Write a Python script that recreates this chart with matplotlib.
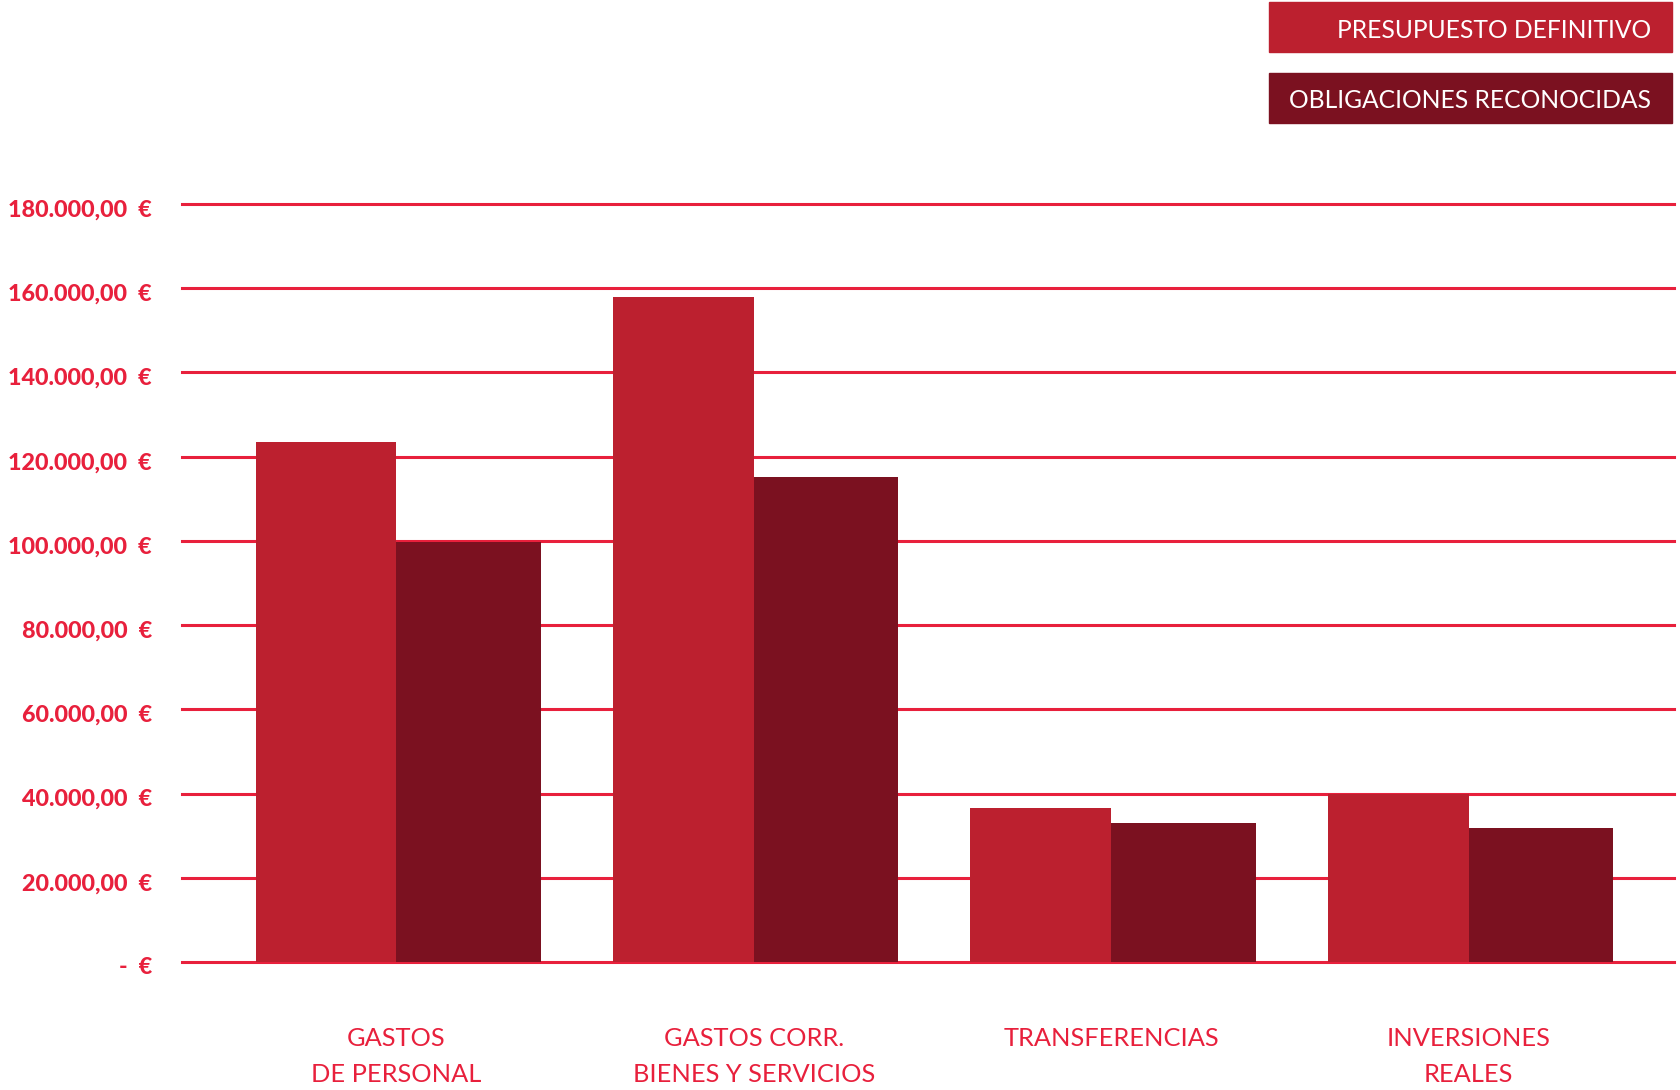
import matplotlib
matplotlib.use("Agg")
import matplotlib.pyplot as plt
import matplotlib.transforms as mtransforms
import numpy as np
from matplotlib.patches import Rectangle

categories = ["GASTOS\nDE PERSONAL", "GASTOS CORR.\nBIENES Y SERVICIOS", "TRANSFERENCIAS", "INVERSIONES\nREALES"]
presupuesto = [123500, 157900, 36500, 40000]
obligaciones = [99800, 115200, 33000, 31800]
series_names = ["PRESUPUESTO DEFINITIVO", "OBLIGACIONES RECONOCIDAS"]
yticks = [0, 20000, 40000, 60000, 80000, 100000, 120000, 140000, 160000, 180000]
ytick_labels = ["-  €", "20.000,00  €", "40.000,00  €", "60.000,00  €", "80.000,00  €",
                "100.000,00  €", "120.000,00  €", "140.000,00  €", "160.000,00  €", "180.000,00  €"]

C_PRES = "#BC202F"
C_OBL = "#7B1120"
C_RED = "#E8203C"

W, H = 1681, 1090
fig = plt.figure(figsize=(W / 100, H / 100), dpi=100)
plt.rcParams['font.family'] = ['Lato', 'DejaVu Sans']

ax_left, ax_right = 182, 1674
ax_top, ax_bot = 204, 962
ax = fig.add_axes([ax_left / W, 1 - ax_bot / H, (ax_right - ax_left) / W, (ax_bot - ax_top) / H])

x = np.arange(len(categories))
wp, wo = 0.394, 0.404
ax.bar(x - wp, presupuesto, width=wp, align='edge', color=C_PRES, zorder=3)
ax.bar(x, obligaciones, width=wo, align='edge', color=C_OBL, zorder=3)

for t in yticks:
    ax.axhline(t, color=C_RED, lw=2.2, zorder=1, clip_on=False)

ax.set_xlim(-0.6, 3.575)
ax.set_ylim(0, 180000)
for s in ax.spines.values():
    s.set_visible(False)

ax.set_yticks(yticks)
ax.set_yticklabels([])
ax.tick_params(axis='y', length=0)
off = mtransforms.ScaledTranslation(-30 / 100, -6 / 100, fig.dpi_scale_trans)
for t, lab in zip(yticks, ytick_labels):
    ax.text(0, t, lab, transform=ax.get_yaxis_transform() + off, ha='right', va='center',
            fontsize=16.8, fontweight='black', color=C_RED)

ax.set_xticks(x)
ax.set_xticklabels(categories, fontsize=18.3, color=C_RED, linespacing=1.68)
ax.tick_params(axis='x', length=0, pad=47)

# legend boxes
boxes = [(2, 52, C_PRES), (73, 123, C_OBL)]
for (y0, y1, c), name in zip(boxes, series_names):
    fig.patches.append(Rectangle((1269 / W, 1 - y1 / H), (1672 - 1269) / W, (y1 - y0) / H,
                                 transform=fig.transFigure, color=c, zorder=5))
    fig.text(1651 / W, 1 - ((y0 + y1) / 2 + 3) / H, name, color='white', fontsize=17.7,
             ha='right', va='center', zorder=6)

fig.savefig("out.png", dpi=100, facecolor='white')
